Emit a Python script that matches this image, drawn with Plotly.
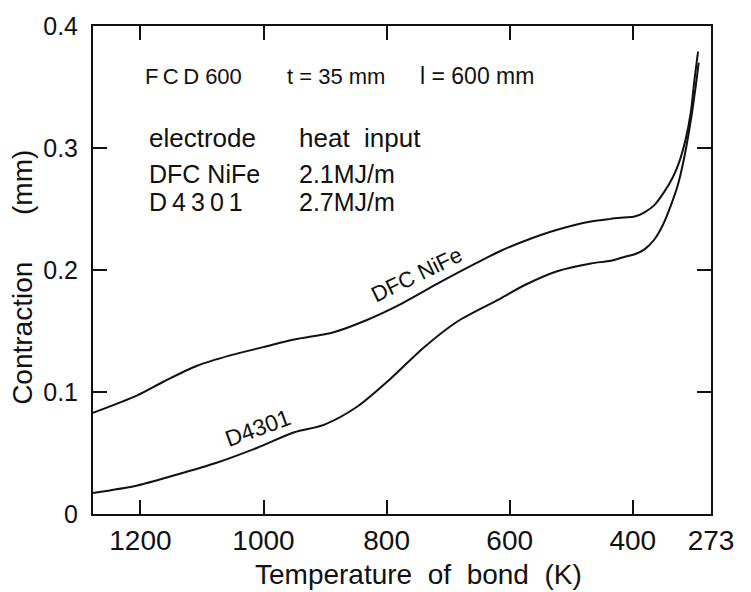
import plotly.graph_objects as go

# Data
temp_dfc = [1277, 1205, 1162, 1108, 1054, 1000, 950, 886, 832, 777, 713, 653, 615,
            577, 523, 468, 436, 414, 397, 381, 365, 349, 335, 324, 314, 306, 300, 294]
contr_dfc = [0.083, 0.0973, 0.1086, 0.1215, 0.130, 0.1368, 0.143, 0.149, 0.159, 0.172,
             0.190, 0.206, 0.2156, 0.2236, 0.233, 0.2398, 0.2419, 0.243, 0.2438, 0.2473,
             0.2532, 0.264, 0.276, 0.2895, 0.3075, 0.3285, 0.3554, 0.379]

temp_d4301 = [1277, 1205, 1146, 1075, 1010, 950, 902, 848, 794, 740, 685, 615, 577,
              523, 468, 436, 414, 397, 381, 365, 351, 338, 327, 316, 304, 298, 293]
contr_d4301 = [0.0172, 0.0234, 0.0315, 0.0422, 0.0543, 0.067, 0.0731, 0.0879, 0.1107,
               0.1363, 0.1578, 0.1766, 0.1873, 0.199, 0.2054, 0.2075, 0.2107, 0.2129,
               0.2169, 0.225, 0.2371, 0.2532, 0.2694, 0.2935, 0.3285, 0.350, 0.370]

x_tickvals = [1200, 1000, 800, 600, 400, 273]
x_ticktext = ["1200", "1000", "800", "600", "400", "273"]
y_tickvals = [0, 0.1, 0.2, 0.3, 0.4]
y_ticktext = ["0", "0.1", "0.2", "0.3", "0.4"]

FONT = "Liberation Sans, Arial, Helvetica, sans-serif"
NARROW = "Liberation Sans Narrow, Arial Narrow, Liberation Sans, sans-serif"
BLACK = "#111111"

fig = go.Figure()
fig.add_trace(go.Scatter(x=temp_dfc, y=contr_dfc, mode="lines", name="DFC NiFe",
                         line=dict(color=BLACK, width=2, shape="spline", smoothing=0.8)))
fig.add_trace(go.Scatter(x=temp_d4301, y=contr_d4301, mode="lines", name="D4301",
                         line=dict(color=BLACK, width=2, shape="spline", smoothing=0.8)))

def px2paper(px, py):
    return (px - 93) / 618.0, (514 - py) / 496.0

annots = []
def add_text(text, px, py, size, xanchor="left", angle=0, family=FONT):
    xp, yp = px2paper(px, py)
    annots.append(dict(text=text, x=xp, y=yp, xref="paper", yref="paper",
                       xanchor=xanchor, yanchor="middle", showarrow=False,
                       textangle=angle, font=dict(family=family, size=size, color=BLACK)))

# Header block
add_text("F\u2009C\u2009D 600", 143, 69, 22)
add_text("t = 35 mm", 285, 69, 22)
add_text("l = 600 mm", 418, 69, 23)
add_text("electrode", 147, 132, 26)
add_text("heat\u00a0\u00a0input", 297, 132, 26)
add_text("DFC NiFe", 147, 168, 25)
add_text("2.1MJ/m", 297, 168, 25)
add_text("D\u20094\u20093\u20090\u20091", 147, 197, 25)
add_text("2.7MJ/m", 297, 197, 25)

# Curve labels
add_text("DFC NiFe", 417, 271, 22, xanchor="center", angle=-26)
add_text("D4301", 258, 427, 23, xanchor="center", angle=-20)

# Axis titles
add_text("Temperature\u00a0\u00a0of\u00a0\u00a0bond\u00a0\u00a0(K)", 418, 575, 28, xanchor="center")
add_text("Contraction\u00a0\u00a0\u00a0\u00a0\u00a0\u00a0(mm)", 23, 274, 28, xanchor="center", angle=-90)

fig.update_layout(
    width=751, height=592,
    margin=dict(l=93, r=40, t=18, b=78),
    paper_bgcolor="white", plot_bgcolor="white",
    showlegend=False,
    annotations=annots,
    xaxis=dict(range=[1277, 273], tickvals=x_tickvals, ticktext=x_ticktext,
               ticks="inside", ticklen=14, tickwidth=2, tickcolor=BLACK,
               showline=True, linecolor=BLACK, linewidth=2, mirror="ticks",
               showgrid=False, zeroline=False, ticklabelstandoff=0,
               tickfont=dict(family=NARROW, size=28, color=BLACK)),
    yaxis=dict(range=[0, 0.4], tickvals=y_tickvals, ticktext=y_ticktext,
               ticks="inside", ticklen=14, tickwidth=2, tickcolor=BLACK,
               showline=True, linecolor=BLACK, linewidth=2, mirror="ticks",
               showgrid=False, zeroline=False, ticklabelstandoff=8,
               tickfont=dict(family=FONT, size=25, color=BLACK)),
)

fig.write_html("out.html")
